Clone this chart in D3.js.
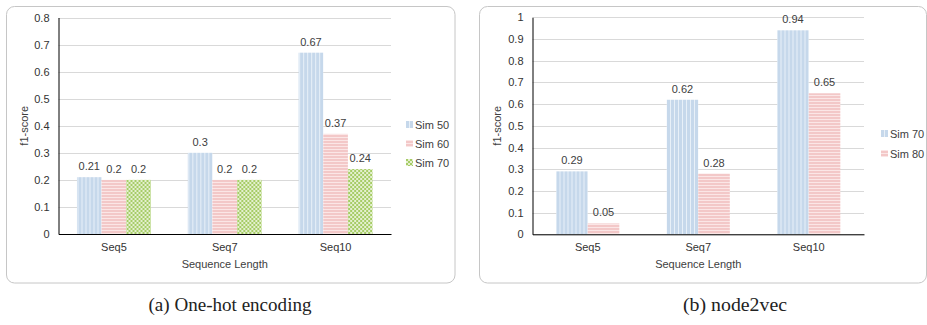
<!DOCTYPE html>
<html>
<head>
<meta charset="utf-8">
<script src="https://cdn.jsdelivr.net/npm/d3@7"></script>
<style>
  html, body { margin: 0; padding: 0; background: #fff; }
  svg { display: block; }
</style>
</head>
<body>
<svg id="fig" width="927" height="325"></svg>
<script>
// Categories shared by both panels
const categories = ["Seq5", "Seq7", "Seq10"];

// Panel (a): one-hot encoding
const seriesA = ["Sim 50", "Sim 60", "Sim 70"];
const sim50A = [0.21, 0.3, 0.67];
const sim60A = [0.2, 0.2, 0.37];
const sim70A = [0.2, 0.2, 0.24];
const ticksA = [0, 0.1, 0.2, 0.3, 0.4, 0.5, 0.6, 0.7, 0.8];

// Panel (b): node2vec
const seriesB = ["Sim 70", "Sim 80"];
const sim70B = [0.29, 0.62, 0.94];
const sim80B = [0.05, 0.28, 0.65];
const ticksB = [0, 0.1, 0.2, 0.3, 0.4, 0.5, 0.6, 0.7, 0.8, 0.9, 1];

const captions = ["(a) One-hot encoding", "(b) node2vec"];

const svg = d3.select("#fig");
const defs = svg.append("defs");

// Fill patterns: vertical stripes (blue), horizontal stripes (red), checker (green)
function stripes(id, w, h, base, line, vertical) {
  const p = defs.append("pattern").attr("id", id)
    .attr("patternUnits", "userSpaceOnUse").attr("width", w).attr("height", h);
  p.append("rect").attr("width", w).attr("height", h).attr("fill", base);
  if (vertical) p.append("rect").attr("x", w - 1).attr("width", 1).attr("height", h).attr("fill", line);
  else p.append("rect").attr("y", h - 1).attr("width", w).attr("height", 1).attr("fill", line);
}
stripes("pBlue", 4, 4, "#c6d8eb", "#e8f0f8", true);
stripes("pRed", 4, 3, "#f3c8c8", "#fbe6e6", false);
(function () {
  const p = defs.append("pattern").attr("id", "pGreen")
    .attr("patternUnits", "userSpaceOnUse").attr("width", 4).attr("height", 4);
  p.append("rect").attr("width", 4).attr("height", 4).attr("fill", "#e4f0cf");
  p.append("rect").attr("width", 2).attr("height", 2).attr("fill", "#a6cc66");
  p.append("rect").attr("x", 2).attr("y", 2).attr("width", 2).attr("height", 2).attr("fill", "#a6cc66");
})();

const fillFor = { "Sim 50": "url(#pBlue)", "Sim 60": "url(#pRed)" };

const font = "'Liberation Sans', Arial, sans-serif";
const textColor = "#404040";

function drawPanel(cfg) {
  const g = svg.append("g");
  // Rounded frame
  g.append("rect")
    .attr("x", cfg.frame[0]).attr("y", cfg.frame[1])
    .attr("width", cfg.frame[2]).attr("height", cfg.frame[3])
    .attr("rx", 8).attr("ry", 8)
    .attr("fill", "#fff").attr("stroke", "#c6c6c6").attr("stroke-width", 1);

  const y = d3.scaleLinear().domain(cfg.domain).range([cfg.bottom, cfg.top]);
  const x0 = d3.scaleBand().domain(categories).range([cfg.left, cfg.right]).padding(0);
  const step = x0.bandwidth();
  const n = cfg.series.length;
  const groupFrac = n / (n + 1.5);
  const x1 = d3.scaleBand().domain(cfg.series)
    .range([step * (1 - groupFrac) / 2, step * (1 + groupFrac) / 2]).padding(0);

  // Gridlines
  g.append("g").selectAll("line").data(cfg.ticks).join("line")
    .attr("x1", cfg.left).attr("x2", cfg.right)
    .attr("y1", d => Math.round(y(d)) + 0.5).attr("y2", d => Math.round(y(d)) + 0.5)
    .attr("stroke", "#d9d9d9").attr("stroke-width", 1);

  // Y axis
  const yAxis = d3.axisLeft(y).tickValues(cfg.ticks).tickSize(0).tickPadding(9)
    .tickFormat(d3.format("~g"));
  const ya = g.append("g").attr("transform", `translate(${cfg.left},0)`).call(yAxis);
  ya.select(".domain").attr("stroke", "#000");
  ya.selectAll("text").attr("font-family", font).attr("font-size", 11).attr("fill", "#333");

  // Bars
  const rows = categories.map((c, i) => ({ cat: c, vals: cfg.series.map((s, j) => ({ s, v: cfg.values[j][i] })) }));
  const grp = g.append("g").selectAll("g").data(rows).join("g")
    .attr("transform", d => `translate(${x0(d.cat)},0)`);
  grp.selectAll("rect").data(d => d.vals).join("rect")
    .attr("x", d => x1(d.s)).attr("width", x1.bandwidth())
    .attr("y", d => y(d.v)).attr("height", d => y(0) - y(d.v))
    .attr("fill", d => cfg.fills[d.s]);
  grp.selectAll("text").data(d => d.vals).join("text")
    .attr("x", d => x1(d.s) + x1.bandwidth() / 2)
    .attr("y", d => y(d.v) - 7)
    .attr("text-anchor", "middle")
    .attr("font-family", font).attr("font-size", 11).attr("fill", textColor)
    .text(d => d3.format("~g")(d.v));

  // X axis
  const xAxis = d3.axisBottom(x0).tickSize(0).tickPadding(9);
  const xa = g.append("g").attr("transform", `translate(0,${cfg.bottom})`).call(xAxis);
  xa.select(".domain").attr("stroke", "#000");
  xa.selectAll("text").attr("font-family", font).attr("font-size", 11).attr("fill", "#333");

  // Axis titles
  g.append("text").attr("x", (cfg.left + cfg.right) / 2).attr("y", cfg.bottom + 34)
    .attr("text-anchor", "middle").attr("font-family", font).attr("font-size", 11)
    .attr("fill", textColor).text("Sequence Length");
  g.append("text")
    .attr("transform", `translate(${cfg.yTitleX},${(cfg.top + cfg.bottom) / 2}) rotate(-90)`)
    .attr("text-anchor", "middle").attr("font-family", font).attr("font-size", 11)
    .attr("fill", textColor).text("f1-score");

  // Legend
  const lg = g.append("g").selectAll("g").data(cfg.series).join("g")
    .attr("transform", (d, i) => `translate(${cfg.legendX},${cfg.legendY + i * cfg.legendGap})`);
  lg.append("rect").attr("x", 0).attr("y", -4).attr("width", 7).attr("height", 7)
    .attr("fill", d => cfg.fills[d]);
  lg.append("text").attr("x", 9).attr("y", 4).attr("font-family", font).attr("font-size", 11)
    .attr("fill", textColor).text(d => d);

  // Caption
  svg.append("text").attr("x", cfg.captionX).attr("y", 311)
    .attr("text-anchor", "middle")
    .attr("font-family", "'Liberation Serif', 'DejaVu Serif', serif").attr("font-size", 19)
    .attr("fill", "#222")
    .attr("textLength", cfg.captionW).attr("lengthAdjust", "spacingAndGlyphs")
    .text(cfg.caption);
}

drawPanel({
  frame: [6.5, 6.5, 448.5, 276.5],
  domain: [0, 0.8], ticks: ticksA,
  left: 58.5, right: 391, top: 17.5, bottom: 234,
  series: seriesA, values: [sim50A, sim60A, sim70A],
  fills: { "Sim 50": "url(#pBlue)", "Sim 60": "url(#pRed)", "Sim 70": "url(#pGreen)" },
  yTitleX: 28, legendX: 406, legendY: 125, legendGap: 19,
  caption: captions[0], captionX: 230, captionW: 163
});

drawPanel({
  frame: [479.5, 6.5, 447, 276.5],
  domain: [0, 1], ticks: ticksB,
  left: 532.5, right: 864, top: 17.3, bottom: 234.3,
  series: seriesB, values: [sim70B, sim80B],
  fills: { "Sim 70": "url(#pBlue)", "Sim 80": "url(#pRed)" },
  yTitleX: 501, legendX: 881, legendY: 134, legendGap: 20,
  caption: captions[1], captionX: 735, captionW: 104
});
</script>
</body>
</html>
